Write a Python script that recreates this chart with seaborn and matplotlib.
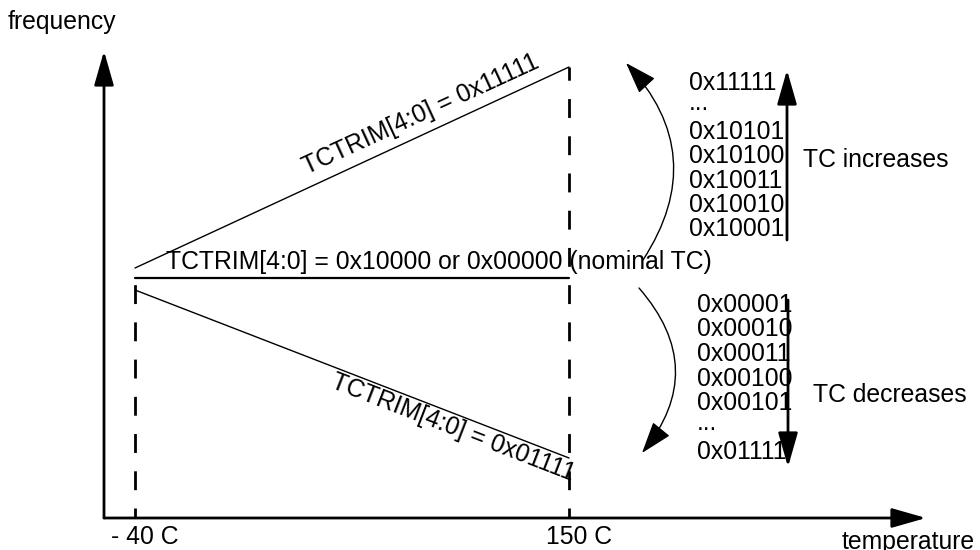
import matplotlib
matplotlib.use("Agg")
import matplotlib.pyplot as plt
import numpy as np
import pandas as pd
import seaborn as sns

# Trim settings sketched over the temperature range
temperatures = [-40, 150]
tc_max = [0.10, 2.11]        # TCTRIM[4:0] = 0x11111
tc_nominal = [0.0, 0.0]      # TCTRIM[4:0] = 0x10000 / 0x00000
tc_min = [-0.12, -1.80]      # TCTRIM[4:0] = 0x01111

temp_labels = ["- 40 C", "150 C"]
codes_up = ["0x11111", "...", "0x10101", "0x10100", "0x10011", "0x10010", "0x10001"]
codes_down = ["0x00001", "0x00010", "0x00011", "0x00100", "0x00101", "...", "0x01111"]

sns.set_theme(style="white")
plt.rcParams["font.family"] = ["Liberation Sans", "DejaVu Sans"]

W, H = 980, 550
fig = plt.figure(figsize=(W / 100, H / 100), dpi=100)
ax = fig.add_axes([0, 0, 1, 1])
X0, X1 = -99.1, 329.9
Y0, Y1 = -2.72, 2.78
ax.set_xlim(X0, X1)
ax.set_ylim(Y0, Y1)
ax.axis("off")


def P(x, y):
    """Canvas pixel position -> data coordinates."""
    return X0 + x / W * (X1 - X0), Y1 - y / H * (Y1 - Y0)


FS = 17.8
K = "black"

df = pd.DataFrame({"temperature": temperatures * 3,
                   "frequency": tc_max + tc_nominal + tc_min,
                   "trim": ["max"] * 2 + ["nominal"] * 2 + ["min"] * 2})
for trim, lw in [("max", 1.0), ("nominal", 1.6), ("min", 1.0)]:
    sns.lineplot(data=df[df.trim == trim], x="temperature", y="frequency",
                 color=K, lw=lw, ax=ax, legend=False)

# axes with arrow heads
ox, oy = P(104, 518)
head = "-|>,head_length=1.05,head_width=0.3"
ax.annotate("", xy=P(104, 51), xytext=(ox, oy),
            arrowprops=dict(arrowstyle=head, lw=2.0, color=K, shrinkA=0, shrinkB=0,
                            mutation_scale=20))
ax.annotate("", xy=P(926, 518), xytext=(ox, oy),
            arrowprops=dict(arrowstyle=head, lw=2.0, color=K, shrinkA=0, shrinkB=0,
                            mutation_scale=20))

# dashed guides at the temperature limits
ax.vlines(temperatures, oy, tc_max, colors=K, lw=2.0,
          linestyles=[(3.2, (6.8, 6.6))])

# axis labels and ticks
ax.text(*P(62, 22), "frequency", fontsize=FS, ha="center", va="center", color=K)
ax.text(*P(908, 542), "temperature", fontsize=FS, ha="center", va="center", color=K)
for t, lab in zip(temperatures, temp_labels):
    ax.text(t + 10 * (X1 - X0) / W, P(0, 537)[1], lab, fontsize=FS,
            ha="center", va="center", color=K)

# line labels
ax.text(*P(421, 114), "TCTRIM[4:0] = 0x11111", fontsize=FS, rotation=24.7,
        rotation_mode="anchor", ha="center", va="center", color=K)
ax.text(*P(166, 262), "TCTRIM[4:0] = 0x10000 or 0x00000 (nominal TC)", fontsize=FS,
        ha="left", va="center", color=K)
ax.text(*P(453, 428), "TCTRIM[4:0] = 0x01111", fontsize=FS, rotation=-21.2,
        rotation_mode="anchor", ha="center", va="center", color=K)

# curved arrows from the nominal line
ax.annotate("", xy=P(626, 63), xytext=P(643, 260),
            arrowprops=dict(arrowstyle="-|>,head_length=1.0,head_width=0.34", lw=1.0,
                            color=K, shrinkA=0, shrinkB=0, mutation_scale=20,
                            connectionstyle="arc3,rad=0.39"))
ax.annotate("", xy=P(642, 453), xytext=P(639, 288),
            arrowprops=dict(arrowstyle="-|>,head_length=1.0,head_width=0.34", lw=1.0,
                            color=K, shrinkA=0, shrinkB=0, mutation_scale=20,
                            connectionstyle="arc3,rad=-0.42"))

# trim code lists
for i, c in enumerate(codes_up):
    y = 83 + i * 24.4
    if c == "...":
        y -= 4
    ax.text(*P(689, y), c, fontsize=FS, ha="left", va="center", color=K)
for i, c in enumerate(codes_down):
    y = 305 + i * 24.5
    if c == "...":
        y -= 4
    ax.text(*P(697, y), c, fontsize=FS, ha="left", va="center", color=K)

ax.annotate("", xy=P(787, 70), xytext=P(787, 240),
            arrowprops=dict(arrowstyle=head, lw=2.0, color=K, shrinkA=0, shrinkB=0,
                            mutation_scale=20))
ax.annotate("", xy=P(788, 467), xytext=P(788, 300),
            arrowprops=dict(arrowstyle=head, lw=2.0, color=K, shrinkA=0, shrinkB=0,
                            mutation_scale=20))
ax.text(*P(803, 160), "TC increases", fontsize=FS, ha="left", va="center", color=K)
ax.text(*P(813, 395), "TC decreases", fontsize=FS, ha="left", va="center", color=K)

fig.savefig("out.png", dpi=100, facecolor="white")
